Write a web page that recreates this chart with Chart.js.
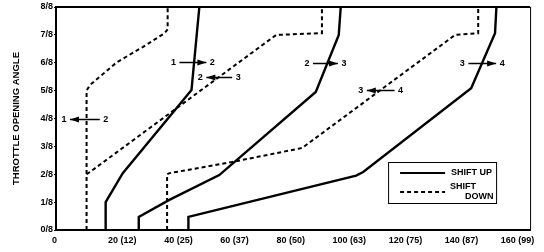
<!DOCTYPE html>
<html><head><meta charset="utf-8">
<style>html,body{margin:0;padding:0;background:#fff;}#wrap{width:544px;height:252px;}</style>
<script src="https://cdn.jsdelivr.net/npm/chart.js@4/dist/chart.umd.min.js"></script>
</head><body><div id="wrap"><canvas id="c" width="544" height="252"></canvas></div>
<script>
// ---- data ----
const xTickValues = [0, 20, 40, 60, 80, 100, 120, 140, 160];
const xTickLabels = ['0', '20 (12)', '40 (25)', '60 (37)', '80 (50)', '100 (63)', '120 (75)', '140 (87)', '160 (99)'];
const yTickValues = [0, 1, 2, 3, 4, 5, 6, 7, 8];
const yTickLabels = ['0/8', '1/8', '2/8', '3/8', '4/8', '5/8', '6/8', '7/8', '8/8'];

const shiftUp12   = [[17.7,0],[17.7,1.0],[23.8,2.04],[48.3,5.02],[51.1,8]];
const shiftUp23   = [[29.5,0],[29.5,0.47],[40.4,1.08],[58.2,1.97],[92.6,4.95],[100.8,7.0],[101.5,8]];
const shiftUp34   = [[47.2,0],[47.2,0.47],[107,1.95],[109.5,2.08],[148,5.09],[156.5,7.06],[157,8]];
const shiftDown12 = [[10.9,0],[10.9,5.0],[12.1,5.2],[21.7,6.02],[30.9,6.56],[38.7,7.06],[39.8,7.2],[39.8,8]];
const shiftDown23 = [[10.9,2.0],[12.1,2.08],[78.5,7.0],[94.8,7.06],[94.8,8]];
const shiftDown34 = [[39.6,0],[39.6,2.0],[40.5,2.04],[62.8,2.44],[87.7,2.94],[142.3,7.0],[150.5,7.06],[150.5,8]];

const annoLow  = ['1','1','2','2','3','3'];
const annoHigh = ['2','2','3','3','4','4'];
const annoDir  = ['down','up','down','up','down','up'];
const annoY    = [4.0, 6.02, 5.48, 6.0, 5.02, 6.0];
const annoFrom = [5.0, 44.0, 53.6, 91.6, 110.8, 147.0];
const annoTo   = [15.6, 53.6, 62.8, 100.5, 120.7, 156.9];

const FONT = '"Liberation Sans", Arial, sans-serif';
const toXY = arr => arr.map(p => ({x: p[0], y: p[1]}));
const solid = data => ({data: toXY(data), showLine: true, borderColor: '#000', borderWidth: 2.4, pointRadius: 0, fill: false, tension: 0});
const dashed = data => ({data: toXY(data), showLine: true, borderColor: '#000', borderWidth: 2, borderDash: [4, 3], pointRadius: 0, fill: false, tension: 0});

const decor = {
  id: 'decor',
  afterDatasetsDraw(chart) {
    const {ctx, chartArea: a, scales: {x, y}} = chart;
    ctx.save();
    ctx.strokeStyle = '#000'; ctx.fillStyle = '#000';
    ctx.setLineDash([]);
    ctx.lineWidth = 2;
    ctx.beginPath(); ctx.moveTo(a.left, a.top); ctx.lineTo(a.right, a.top); ctx.stroke();
    ctx.lineWidth = 1;
    ctx.beginPath(); ctx.moveTo(a.right + 0.5, a.top); ctx.lineTo(a.right + 0.5, a.bottom); ctx.stroke();

    ctx.font = 'bold 9px ' + FONT;
    ctx.textAlign = 'center'; ctx.textBaseline = 'middle';
    for (let i = 0; i < annoY.length; i++) {
      const py = Math.round(y.getPixelForValue(annoY[i])) + 0.5;
      const p1 = x.getPixelForValue(annoFrom[i]), p2 = x.getPixelForValue(annoTo[i]);
      ctx.lineWidth = 1.5;
      ctx.beginPath(); ctx.moveTo(p1, py); ctx.lineTo(p2, py); ctx.stroke();
      let tip, base;
      if (annoDir[i] === 'down') { tip = p1; base = p1 + 9; } else { tip = p2; base = p2 - 9; }
      ctx.beginPath(); ctx.moveTo(tip, py); ctx.lineTo(base, py - 3); ctx.lineTo(base, py + 3); ctx.closePath(); ctx.fill();
      ctx.fillText(annoLow[i], p1 - 6, py);
      ctx.fillText(annoHigh[i], p2 + 6, py);
    }

    // legend
    const lx = a.right - 142, ly = a.bottom - 68, lw = 108, lh = 41;
    ctx.lineWidth = 1;
    ctx.strokeRect(lx + 0.5, ly + 0.5, lw, lh);
    ctx.lineWidth = 2;
    ctx.beginPath(); ctx.moveTo(lx + 12, ly + 11); ctx.lineTo(lx + 57, ly + 11); ctx.stroke();
    ctx.setLineDash([4, 3]);
    ctx.beginPath(); ctx.moveTo(lx + 12, ly + 30); ctx.lineTo(lx + 57, ly + 30); ctx.stroke();
    ctx.setLineDash([]);
    ctx.textAlign = 'left';
    ctx.font = 'bold 9px ' + FONT;
    ctx.fillText('SHIFT UP', lx + 63, ly + 11);
    ctx.fillText('SHIFT', lx + 62, ly + 25);
    ctx.fillText('DOWN', lx + 77, ly + 35);
    ctx.restore();
  }
};

new Chart(document.getElementById('c'), {
  type: 'scatter',
  data: {
    datasets: [
      solid(shiftUp12), solid(shiftUp23), solid(shiftUp34),
      dashed(shiftDown12), dashed(shiftDown23), dashed(shiftDown34)
    ]
  },
  options: {
    responsive: false,
    devicePixelRatio: 1,
    animation: false,
    layout: {padding: {top: 7, right: 12, left: 0, bottom: 0}},
    plugins: {legend: {display: false}, tooltip: {enabled: false}},
    scales: {
      x: {
        type: 'linear', min: 0, max: 169,
        afterBuildTicks: s => { s.ticks = xTickValues.map(v => ({value: v})); },
        afterFit: s => { s.height = 22; },
        border: {display: true, color: '#000', width: 2},
        grid: {drawOnChartArea: false, drawTicks: false},
        ticks: {
          align: 'start', labelOffset: -4, padding: 5, color: '#000', maxRotation: 0, autoSkip: false,
          font: {family: FONT, size: 9, weight: 'bold'},
          callback: v => xTickLabels[xTickValues.indexOf(v)]
        }
      },
      y: {
        type: 'linear', min: 0, max: 8,
        afterBuildTicks: s => { s.ticks = yTickValues.map(v => ({value: v})); },
        afterFit: s => { s.width = 56; },
        border: {display: true, color: '#000', width: 2},
        grid: {drawOnChartArea: false, drawTicks: true, tickLength: 2, color: '#000'},
        title: {display: true, text: 'THROTTLE OPENING ANGLE', color: '#000', padding: {top: 11, bottom: 0}, font: {family: FONT, size: 9.5, weight: 'bold'}},
        ticks: {
          padding: 1, color: '#000', autoSkip: false,
          font: {family: FONT, size: 9, weight: 'bold'},
          callback: v => yTickLabels[yTickValues.indexOf(v)]
        }
      }
    }
  },
  plugins: [decor]
});
</script>
</body></html>
